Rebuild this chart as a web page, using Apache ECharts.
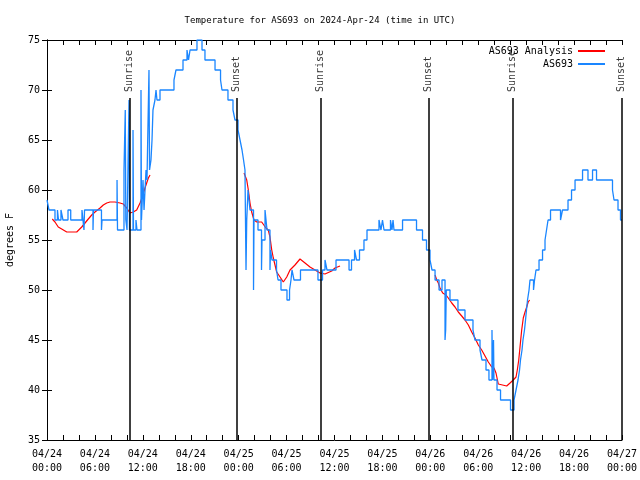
<!DOCTYPE html>
<html>
<head>
<meta charset="utf-8">
<script src="https://cdn.jsdelivr.net/npm/echarts@6/dist/echarts.min.js"></script>
<style>html,body{margin:0;padding:0;background:#fff}#c{width:640px;height:480px}</style>
</head>
<body>
<div id="c"></div>
<script>
// hours since 2024-04-24 00:00 UTC
var xTickLabels = ["04/24\n00:00","04/24\n06:00","04/24\n12:00","04/24\n18:00","04/25\n00:00","04/25\n06:00","04/25\n12:00","04/25\n18:00","04/26\n00:00","04/26\n06:00","04/26\n12:00","04/26\n18:00","04/27\n00:00"];
var yTicks = [35,40,45,50,55,60,65,70,75];

var stationHours = [0.00,0.25,1.00,1.31,1.44,1.75,2.00,2.63,2.97,4.38,4.63,4.70,5.76,5.82,6.82,6.89,8.77,8.83,9.64,9.80,9.87,10.02,10.27,10.33,10.77,10.83,11.14,11.27,11.77,11.83,12.02,12.15,12.40,12.52,12.77,12.84,13.02,13.15,13.27,13.52,13.65,13.77,14.15,15.90,16.15,17.03,17.53,17.72,17.91,18.78,19.41,19.78,21.04,21.73,21.91,22.66,23.29,23.54,23.92,24.17,24.42,24.61,24.79,24.92,25.01,25.17,25.42,25.86,25.92,26.42,26.86,26.92,27.30,27.55,27.92,27.99,28.17,28.74,28.93,29.30,30.05,30.37,30.55,30.68,30.93,31.74,33.93,34.50,34.81,35.06,36.19,37.82,38.13,38.51,38.76,39.13,39.69,40.07,41.57,41.82,42.01,42.20,43.01,43.20,43.33,43.45,44.52,46.27,47.02,47.52,47.96,48.21,48.59,49.09,49.46,49.84,49.92,50.00,50.46,51.46,52.34,53.34,53.59,54.22,54.47,54.97,55.34,55.72,55.79,55.91,55.97,56.35,56.79,58.04,58.48,58.73,58.98,59.17,59.29,59.48,59.60,59.79,59.92,60.04,60.17,60.36,60.48,60.92,61.05,61.23,61.61,62.05,62.36,62.55,62.74,63.05,64.30,64.55,65.24,65.68,66.12,67.06,67.74,68.31,68.81,70.81,71.00,71.50,71.81,72.00];
var stationTemps = [59,58,57,58,57,58,57,58,57,58,56,58,56,58,56,57,61,56,62,68,57,56,69,56,66,56,57,56,70,57,61,58,62,61,72,62,63,65,68,69,70,69,70,71,72,73,74,73,74,75,74,73,72,71,70,69,68,67,66,65,64,63,62,52,57,60,58,50,57,56,52,55,58,56,52,54,53,52,51,50,49,50,51,52,51,52,51,52,53,52,53,52,53,54,53,54,55,56,57,56,57,56,57,56,57,56,57,56,55,54,53,52,51,50,51,45,46,50,49,48,47,46,45,44,43,42,41,46,41,45,41,40,39,38,39,40,41,42,43,44,45,46,47,48,49,50,51,50,51,52,53,54,55,56,57,58,57,58,59,60,61,62,61,62,61,60,59,58,57,57];

var analysis1Hours = [0.66,1.00,1.41,1.84,2.47,3.72,3.92,4.35,4.76,5.17,5.60,6.01,6.64,7.05,7.48,7.89,8.51,9.14,9.55,9.98,10.39,10.81,11.23,11.65,11.93,12.27,12.69,12.90];
var analysis1Temps = [57.1,56.8,56.3,56.1,55.8,55.8,56.0,56.3,56.7,57.1,57.5,57.8,58.2,58.5,58.7,58.8,58.8,58.7,58.6,58.2,57.7,57.8,58.0,58.7,59.3,60.2,61.2,61.5];
var analysis2Hours = [24.67,25.01,25.21,25.42,25.63,25.92,26.26,26.88,27.08,27.42,27.71,27.92,28.14,28.34,28.55,28.76,29.18,29.59,30.02,30.43,31.05,31.68,32.31,32.93,33.56,34.19,34.81,35.65,36.06,36.69];
var analysis2Temps = [61.7,61.0,60.0,58.7,57.8,57.0,56.8,56.8,56.7,56.2,56.0,55.3,54.0,53.2,52.5,51.8,51.3,50.8,51.3,52.0,52.5,53.1,52.7,52.3,52.0,51.7,51.6,51.9,52.2,52.4];
var analysis3Hours = [48.59,48.80,49.00,49.21,49.55,49.96,50.25,50.68,51.09,51.50,51.93,52.34,52.76,53.18,53.59,54.01,54.43,54.85,55.26,55.69,55.97,56.22,56.51,56.72,57.56,57.98,58.39,58.73,58.89,59.07,59.23,59.44,59.64,59.86,60.07,60.25,60.44];
var analysis3Temps = [51.5,51.0,50.7,50.2,49.7,49.5,49.2,48.7,48.3,47.8,47.4,47.0,46.5,45.8,45.2,44.5,44.0,43.4,42.8,42.3,42.2,41.7,40.6,40.4,40.4,40.7,41.0,41.3,42.0,43.0,44.3,46.0,47.2,47.8,48.3,48.8,49.0];

var eventHours = [10.33,23.73,34.25,47.77,58.29,71.94];
var eventNames = ["Sunrise","Sunset","Sunrise","Sunset","Sunrise","Sunset"];
var eventLineTop = 69.2;

var FONT = "DejaVu Sans Mono";
function pairs(xs, ys){ return xs.map(function(x,i){ return [x, ys[i]]; }); }

var chart = echarts.init(document.getElementById('c'), null, {renderer:'canvas'});
var axisCommon = {
  type:'value',
  axisLine:{show:true, lineStyle:{color:'#000', width:1}},
  axisTick:{show:true, inside:true, length:5, lineStyle:{color:'#000'}},
  splitLine:{show:false}
};
var red = '#ff0000', blue = '#1a86ff';
var redSeries = [analysis1Hours, analysis2Hours, analysis3Hours].map(function(h, k){
  var t = [analysis1Temps, analysis2Temps, analysis3Temps][k];
  return {name:'AS693 Analysis', type:'line', data:pairs(h,t), showSymbol:false, symbol:'none',
    lineStyle:{color:red, width:1.2}, itemStyle:{color:red}, z:2};
});
chart.setOption({
  animation:false,
  backgroundColor:'#fff',
  title:{text:'Temperature for AS693 on 2024-Apr-24 (time in UTC)', left:'center', top:11,
    textStyle:{fontFamily:FONT, fontSize:9, fontWeight:'normal', color:'#000'}},
  legend:{orient:'vertical', right:30, top:41, align:'right', itemWidth:27, itemHeight:2, itemGap:3,
    icon:'rect', textStyle:{fontFamily:FONT, fontSize:10, color:'#000'},
    data:['AS693 Analysis','AS693']},
  grid:{left:47, right:18, top:40, bottom:40, containLabel:false, outerBoundsMode:'none'},
  xAxis:[
    Object.assign({}, axisCommon, {position:'bottom', min:0, max:72, interval:6,
      minorTick:{show:true, splitNumber:3, length:5, lineStyle:{color:'#000'}},
      axisLabel:{margin:7, lineHeight:14, fontFamily:FONT, fontSize:10, color:'#000',
        formatter:function(v){ return xTickLabels[Math.round(v/6)]; }}}),
    Object.assign({}, axisCommon, {position:'top', min:0, max:72, interval:6,
      minorTick:{show:true, splitNumber:3, length:5, lineStyle:{color:'#000'}},
      axisLabel:{show:false}})
  ],
  yAxis:[
    Object.assign({}, axisCommon, {position:'left', min:yTicks[0], max:yTicks[yTicks.length-1], interval:5,
      name:'degrees F', nameLocation:'middle', nameRotate:90, nameGap:32,
      nameTextStyle:{fontFamily:FONT, fontSize:10, color:'#000'},
      axisLabel:{margin:7, fontFamily:FONT, fontSize:10, color:'#000'}}),
    Object.assign({}, axisCommon, {position:'right', min:yTicks[0], max:yTicks[yTicks.length-1], interval:5,
      axisLabel:{show:false}})
  ],
  series: redSeries.concat([
    {name:'AS693', type:'line', step:'end', data:pairs(stationHours, stationTemps), showSymbol:false, symbol:'none',
      lineStyle:{color:blue, width:1.3}, itemStyle:{color:blue}, z:3},
    {name:'events', type:'scatter', symbolSize:0, silent:true, z:4,
      data:eventHours.map(function(h,i){ return {value:[h, eventLineTop], name:eventNames[i]}; }),
      label:{show:true, formatter:'{b}', position:'top', distance:6, rotate:90, align:'left', verticalAlign:'middle',
        fontFamily:FONT, fontSize:10, color:'#000'},
      markLine:{silent:true, symbol:['none','none'], label:{show:false},
        lineStyle:{color:'#000', width:1.5, type:'solid'},
        data:eventHours.map(function(h){ return [{coord:[h, eventLineTop]},{coord:[h, yTicks[0]]}]; })}
    }
  ])
});
</script>
</body>
</html>
